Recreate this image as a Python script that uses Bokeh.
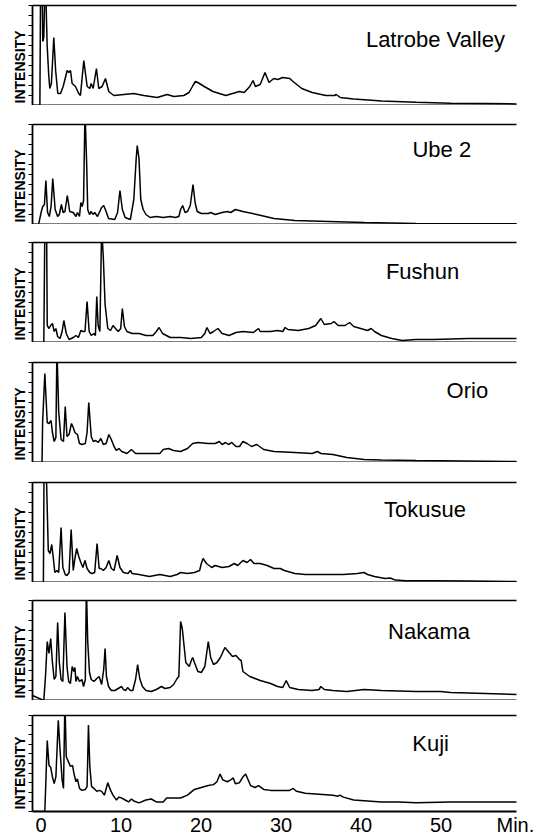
from bokeh.plotting import figure
from bokeh.models import Range1d, FixedTicker, Label, LinearAxis, Title
from bokeh.layouts import column
from bokeh.embed import file_html
from bokeh.resources import INLINE

# ---------------- data ----------------
samples = ["Latrobe Valley", "Ube 2", "Fushun", "Orio", "Tokusue", "Nakama", "Kuji"]

# (retention time in min, relative intensity 0-100 of panel height; >100 = off scale)
latrobe = [(-1.06, 0), (-0.14, 0), (-0.06, 112), (0.15, 112), (0.22, 64), (0.35, 68), (0.47, 112), (0.6, 112),
           (0.77, 60), (0.97, 30), (1.1, 17), (1.3, 22), (1.6, 68), (1.83, 35), (2.1, 12), (2.44, 12),
           (2.77, 19), (3.27, 35), (3.48, 33), (3.69, 35), (3.89, 22), (4.31, 19), (4.72, 12), (4.93, 10),
           (5.35, 45), (5.77, 19), (6.1, 17), (6.27, 22), (6.52, 17), (6.93, 37), (7.22, 17), (7.64, 19),
           (8.06, 27), (8.47, 14), (9.1, 10), (10.35, 11), (11.6, 12), (12.85, 10), (14.52, 8), (15.77, 11),
           (16.6, 9), (17.85, 10), (18.5, 13), (19.0, 20), (19.3, 24), (19.6, 23), (20.4, 19), (21.5, 14),
           (23.1, 10), (24.8, 14), (25.4, 13), (26.1, 19), (26.5, 25), (26.8, 19), (27.4, 21), (28.0, 33),
           (28.5, 23), (29.1, 27), (29.6, 26), (30.2, 28), (31.1, 27), (31.5, 24), (32.6, 17), (33.9, 13),
           (35.6, 10), (36.7, 10), (36.9, 11), (37.4, 8), (39.1, 6.5), (42.6, 4.6), (46.9, 3.3), (51.2, 2.3),
           (55.6, 2), (59.5, 1.6)]

ube2 = [(-1.06, 0), (-0.3, 0), (0.04, 13), (0.22, 18), (0.43, 20), (0.61, 44), (0.82, 12), (1.04, 8),
        (1.26, 18), (1.47, 46), (1.77, 15), (2.08, 8), (2.29, 10), (2.55, 20), (2.77, 12), (2.99, 13),
        (3.29, 29), (3.59, 13), (4.03, 12), (4.37, 8), (4.55, 12), (4.81, 8), (4.98, 22), (5.15, 18),
        (5.32, 24), (5.5, 115), (5.71, 60), (5.84, 15), (6.06, 10), (6.28, 13), (6.49, 10), (6.71, 12),
        (7.06, 8), (7.58, 17), (7.84, 19), (8.14, 13), (8.44, 6), (9.22, 5), (9.57, 12), (9.87, 34),
        (10.17, 15), (10.52, 7), (11.17, 5), (11.6, 25), (11.9, 66), (12.03, 79), (12.25, 66), (12.47, 25),
        (12.77, 15), (13.12, 10), (13.64, 7), (14.42, 8), (15.28, 7), (16.15, 8), (16.8, 7), (17.23, 8),
        (17.45, 15), (17.71, 19), (18.01, 12), (18.31, 13), (18.66, 19), (19.0, 40), (19.26, 22),
        (19.52, 13), (20.04, 11), (20.91, 11), (21.21, 12), (21.77, 10), (22.64, 12), (23.29, 13),
        (23.72, 12), (24.29, 15), (25.24, 13), (26.97, 10), (29.13, 6), (31.73, 4), (36.0, 3), (40.4, 2),
        (46.9, 1), (59.5, 0.7)]

fushun = [(-1.06, 0), (0.35, 0), (0.48, 115), (0.7, 115), (0.78, 17), (1.0, 14), (1.21, 17), (1.43, 19),
          (1.65, 11), (1.86, 14), (2.08, 6), (2.38, 4), (2.64, 11), (2.86, 22), (3.16, 9), (3.51, 3),
          (4.03, 5), (4.37, 7), (4.68, 5), (4.98, 12), (5.24, 11), (5.5, 11), (5.76, 41), (6.02, 11),
          (6.28, 7), (6.62, 9), (6.8, 7), (6.97, 46), (7.14, 17), (7.36, 11), (7.58, 115), (7.79, 85),
          (8.01, 38), (8.35, 14), (8.7, 12), (9.0, 17), (9.31, 14), (9.65, 11), (9.96, 14), (10.17, 34),
          (10.43, 16), (10.74, 11), (11.39, 9), (12.25, 9), (13.12, 7), (13.98, 7), (14.42, 11), (14.76, 15),
          (15.19, 9), (16.15, 5), (17.45, 5), (18.74, 4), (20.04, 5), (20.48, 9), (20.74, 15), (21.13, 9),
          (21.56, 11), (22.12, 14), (22.64, 9), (23.51, 7), (24.37, 10), (25.24, 11), (26.54, 10),
          (27.19, 14), (27.4, 11), (28.7, 11), (29.57, 12), (30.22, 11), (30.52, 15), (30.87, 13),
          (32.16, 12), (33.46, 14), (34.33, 17), (34.98, 24), (35.41, 18), (36.28, 19), (36.62, 21),
          (37.14, 17), (38.01, 17), (38.57, 20), (39.09, 16), (39.96, 14), (40.82, 12), (41.26, 14),
          (41.69, 11), (42.55, 7), (43.85, 4), (45.15, 2), (46.88, 3), (49.05, 3), (53.38, 4), (59.5, 4)]

orio = [(-1.06, 0), (0.13, 0), (0.2, 40), (0.48, 89), (0.78, 40), (1.0, 39), (1.26, 42), (1.43, 30),
        (1.65, 21), (1.86, 25), (1.99, 115), (2.21, 51), (2.51, 23), (2.81, 21), (3.03, 56), (3.25, 26),
        (3.51, 28), (3.81, 39), (4.03, 35), (4.24, 30), (4.55, 28), (4.81, 19), (5.11, 18), (5.54, 19),
        (5.76, 30), (5.97, 60), (6.28, 26), (6.54, 21), (6.84, 22), (7.14, 20), (7.49, 24), (7.79, 18),
        (8.14, 19), (8.48, 28), (8.79, 23), (9.13, 16), (9.44, 12), (9.74, 14), (10.09, 11), (10.74, 9),
        (11.3, 13), (11.82, 9), (13.12, 9), (14.42, 9), (14.85, 9), (15.28, 13), (15.93, 14), (16.58, 12),
        (17.45, 11), (18.31, 14), (18.96, 19), (19.61, 20), (20.91, 19), (21.77, 19), (22.29, 21),
        (22.64, 18), (23.07, 20), (23.42, 18), (23.85, 20), (24.37, 16), (24.81, 16), (25.24, 21),
        (25.76, 19), (26.32, 16), (26.97, 18), (27.84, 13), (29.13, 11), (31.73, 10), (33.9, 9),
        (34.55, 11), (34.98, 9), (36.49, 8), (38.23, 5), (40.39, 3), (42.55, 2.5), (46.88, 2), (59.5, 1)]

tokusue = [(-1.06, 0), (0.3, 0), (0.38, 115), (0.65, 115), (0.91, 32), (1.13, 29), (1.34, 38), (1.52, 26),
           (1.73, 10), (1.99, 12), (2.21, 10), (2.51, 55), (2.73, 15), (3.03, 8), (3.25, 7), (3.51, 10),
           (3.77, 53), (4.03, 12), (4.24, 24), (4.46, 34), (4.72, 26), (4.98, 20), (5.24, 15), (5.5, 22),
           (5.76, 14), (6.1, 10), (6.41, 9), (6.71, 10), (7.01, 39), (7.27, 14), (7.49, 14), (7.79, 12),
           (8.14, 15), (8.48, 22), (8.79, 14), (9.13, 12), (9.52, 27), (9.87, 15), (10.3, 10), (10.87, 9),
           (11.17, 12), (11.39, 9), (12.25, 8), (13.55, 6), (14.85, 8), (16.15, 6), (17.01, 8), (17.45, 10),
           (18.31, 9), (19.18, 10), (19.83, 12), (20.04, 19), (20.26, 24), (20.69, 19), (21.34, 15),
           (21.77, 17), (22.64, 15), (23.51, 16), (24.16, 19), (24.59, 17), (25.24, 22), (25.76, 20),
           (26.19, 23), (26.62, 19), (27.4, 19), (28.27, 17), (29.13, 14), (29.91, 14), (30.43, 12),
           (31.73, 9), (33.03, 8), (35.63, 8), (37.79, 8), (39.52, 9), (40.39, 10), (40.82, 8), (41.69, 6),
           (42.99, 4), (43.64, 4.5), (44.29, 2.4), (45.58, 1.7), (49.05, 1.7), (53.38, 1.4), (59.5, 1)]

nakama = [(-1.06, 5), (0.35, 0), (0.56, 24), (0.78, 59), (1.0, 47), (1.21, 62), (1.43, 38), (1.65, 21),
          (1.86, 24), (2.08, 78), (2.29, 38), (2.51, 21), (2.73, 19), (2.99, 88), (3.25, 34), (3.46, 19),
          (3.68, 17), (3.9, 34), (4.11, 29), (4.24, 33), (4.37, 19), (4.55, 24), (4.81, 19), (5.11, 21),
          (5.32, 14), (5.54, 21), (5.67, 115), (5.84, 59), (6.06, 28), (6.28, 21), (6.62, 19), (6.97, 22),
          (7.27, 24), (7.58, 16), (7.84, 31), (8.01, 52), (8.18, 24), (8.44, 14), (8.79, 10), (9.22, 10),
          (9.65, 12), (10.09, 14), (10.3, 11), (10.61, 10), (10.82, 13), (11.17, 10), (11.47, 10),
          (11.82, 21), (12.08, 36), (12.34, 22), (12.68, 14), (13.12, 10), (13.77, 9), (14.42, 11),
          (15.06, 14), (15.5, 12), (16.15, 13), (16.58, 16), (17.01, 22), (17.23, 24), (17.45, 79),
          (17.66, 72), (18.1, 38), (18.53, 34), (18.83, 41), (18.96, 43), (19.18, 38), (19.61, 29),
          (20.04, 28), (20.48, 34), (20.91, 59), (21.21, 43), (21.56, 36), (21.99, 38), (22.42, 43),
          (22.99, 53), (23.51, 48), (23.94, 44), (24.37, 45), (24.81, 41), (25.02, 40), (25.24, 29),
          (26.1, 24), (27.4, 20), (28.7, 17), (29.57, 14), (30.22, 13), (30.65, 20), (31.08, 13),
          (32.16, 11), (33.9, 10), (34.76, 11), (34.98, 14), (35.41, 11), (36.49, 10), (38.23, 9),
          (40.39, 11), (42.55, 10), (46.88, 9), (49.91, 9), (51.21, 8), (55.54, 7), (59.5, 6)]

kuji = [(-1.06, 0), (0.48, 0), (0.78, 74), (1.0, 48), (1.21, 46), (1.43, 36), (1.65, 29), (1.86, 36),
        (2.16, 95), (2.38, 64), (2.64, 33), (2.81, 24), (2.99, 115), (3.16, 57), (3.42, 52), (3.68, 47),
        (3.94, 48), (4.16, 38), (4.37, 31), (4.55, 34), (4.81, 24), (5.11, 22), (5.54, 23), (5.76, 26),
        (5.93, 90), (6.1, 47), (6.32, 26), (6.62, 24), (6.97, 21), (7.27, 22), (7.58, 21), (7.92, 17),
        (8.35, 30), (8.7, 22), (9.0, 17), (9.44, 12), (9.74, 15), (10.09, 14), (10.52, 12), (10.95, 10),
        (11.3, 13), (11.6, 11), (12.25, 9), (13.12, 12), (13.77, 13), (14.42, 10), (15.28, 10), (15.71, 14),
        (16.58, 14), (17.45, 14), (18.31, 17), (19.18, 23), (20.04, 25), (20.91, 27), (21.56, 28),
        (21.99, 31), (22.38, 39), (22.73, 33), (23.29, 31), (23.72, 33), (24.03, 35), (24.29, 29),
        (24.81, 30), (25.24, 36), (25.58, 39), (25.89, 33), (26.19, 27), (26.75, 25), (27.19, 27),
        (27.84, 23), (28.7, 22), (29.57, 22), (30.43, 22), (31.08, 22), (31.52, 24), (31.95, 21),
        (33.03, 19), (34.76, 18), (36.49, 17), (37.14, 16), (37.36, 17), (37.79, 15), (39.09, 12),
        (40.82, 11), (42.55, 10), (44.72, 10), (46.88, 9), (51.21, 10), (59.5, 10)]

traces = [latrobe, ube2, fushun, orio, tokusue, nakama, kuji]

x_ticks = [0, 10, 20, 30, 40, 50]
x_unit_tick = 59.3
x_unit_label = "Min."
y_ticks = [0, 10, 20, 30, 40, 50, 60, 70, 80, 90, 100]
y_label = "INTENSITY"

# ---------------- layout / style ----------------
# per panel: space above the frame (px) and frame height (px)
top_space = [5, 19, 18, 20, 20, 18, 15]
frame_h = [100, 100, 100, 100, 100, 100, 98]
BOTTOM_AXIS = 25
WIDTH = 540
LEFT = 32
RIGHT = 24
# label anchor per panel (x centre in min, baseline in intensity units)
name_pos = [(49.3, 66), (50.1, 75), (47.7, 71), (53.3, 72), (48.0, 73), (48.5, 69), (48.7, 71)]
FONT = "Liberation Sans"

x_range = Range1d(-1.0625, 59.4375)
figs = []
n = len(samples)
for k, (name, trace) in enumerate(zip(samples, traces)):
    last = (k == n - 1)
    top = top_space[k]
    bottom = BOTTOM_AXIS if last else 0
    p = figure(width=WIDTH, height=top + frame_h[k] + bottom, x_range=x_range, y_range=Range1d(0, 100),
               output_backend="svg", toolbar_location=None,
               min_border_left=LEFT, min_border_right=RIGHT,
               min_border_top=top, min_border_bottom=bottom)
    p.outline_line_color = None
    p.grid.visible = False
    p.background_fill_color = "white"
    p.border_fill_color = "white"

    t = [pt[0] for pt in trace]
    v = [pt[1] for pt in trace]
    p.line(t, v, line_color="black", line_width=1.5)

    ya = p.yaxis[0]
    ya.ticker = FixedTicker(ticks=[], minor_ticks=y_ticks)
    ya.major_label_standoff = 0
    ya.major_tick_out = 4
    ya.major_tick_in = 0
    ya.minor_tick_out = 4
    ya.minor_tick_in = 0
    ya.minor_tick_line_width = 1.2
    ya.minor_tick_line_color = "black"
    ya.axis_line_width = 1.8

    p.add_layout(Title(text=y_label, align="left", offset=2, standoff=2, text_font=FONT,
                       text_font_style="bold", text_font_size="14px", text_color="black"), "left")

    xa = p.xaxis[0]
    xa.axis_line_width = 1.8
    xa.minor_tick_out = 0
    xa.minor_tick_in = 0
    xa.major_tick_in = 0
    xa.major_tick_out = 0
    if last:
        xa.ticker = FixedTicker(ticks=x_ticks + [x_unit_tick])
        xa.major_label_overrides = {x_unit_tick: x_unit_label}
        xa.major_label_standoff = 2
        xa.major_label_text_font = FONT
        xa.major_label_text_font_size = "20px"
        xa.major_label_text_color = "black"
    else:
        xa.ticker = FixedTicker(ticks=[])
        xa.major_label_standoff = 0

    top_axis = LinearAxis(ticker=FixedTicker(ticks=[]),
                          major_label_standoff=0, major_tick_out=0, major_tick_in=0,
                          minor_tick_out=0, minor_tick_in=0, axis_line_width=1.5)
    p.add_layout(top_axis, "above")

    cx, by = name_pos[k]
    p.add_layout(Label(x=cx, y=by, text=name, text_align="center", text_baseline="alphabetic",
                       text_font=FONT, text_font_size="22px", text_color="black"))
    figs.append(p)

layout = column(*figs, spacing=0)
open("out.html", "w").write(file_html(layout, INLINE))
